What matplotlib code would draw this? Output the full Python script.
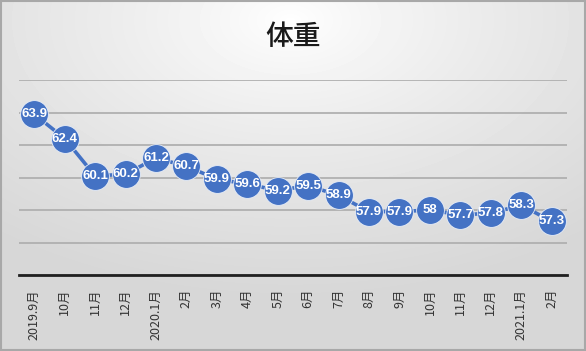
import numpy as np
import matplotlib
matplotlib.use("Agg")
import matplotlib.pyplot as plt

plt.rcParams['font.family'] = ['Noto Sans CJK JP', 'DejaVu Sans']

# データ
months = ["2019.9月", "10月", "11月", "12月", "2020.1月", "2月", "3月", "4月", "5月",
          "6月", "7月", "8月", "9月", "10月", "11月", "12月", "2021.1月", "2月"]
weight = [63.9, 62.4, 60.1, 60.2, 61.2, 60.7, 59.9, 59.6, 59.2,
          59.5, 58.9, 57.9, 57.9, 58, 57.7, 57.8, 58.3, 57.3]
labels = ["63.9", "62.4", "60.1", "60.2", "61.2", "60.7", "59.9", "59.6", "59.2",
          "59.5", "58.9", "57.9", "57.9", "58", "57.7", "57.8", "58.3", "57.3"]

fig = plt.figure(figsize=(5.86, 3.51), dpi=100)

# 背景のグラデーション
bg = fig.add_axes([0, 0, 1, 1], zorder=-10)
yy, xx = np.mgrid[0:351, 0:586]
r = np.sqrt(((xx - 290) / 586.0) ** 2 + ((yy - 20) / 351.0) ** 2)
shade = 1.0 - 0.16 * np.clip(r / 0.8, 0, 1) ** 0.8
bg.imshow(shade, cmap='gray', vmin=0, vmax=1, aspect='auto', extent=[0, 1, 0, 1])
bg.add_patch(plt.Rectangle((0.002, 0.003), 0.996, 0.994, fill=False,
                           edgecolor='#a8a8a8', linewidth=1.5, transform=bg.transAxes))
bg.axis('off')

ax = fig.add_axes([0.0324, 0.2165, 0.935, 0.5555])
ax.patch.set_alpha(0)
x = np.arange(len(months))
ax.plot(x, weight, color='#4472c4', linewidth=2.6, marker='o', markersize=20,
        markerfacecolor='#4472c4', markeredgecolor='#e8eef8', markeredgewidth=0.6, zorder=3)
for xi, yi, t in zip(x, weight, labels):
    ax.text(xi, yi, t, ha='center', va='center', color='white', fontsize=9.5,
            fontweight='bold', family=['Liberation Sans', 'DejaVu Sans'], zorder=4)

ax.set_xlim(-0.5, len(months) - 0.5)
ax.set_ylim(54, 66)
ax.set_yticks(np.arange(54, 67, 2))
ax.set_yticklabels([])
ax.tick_params(axis='y', length=0)
ax.grid(axis='y', color='#b0b0b0', linewidth=1.3)
ax.set_axisbelow(True)
for s in ['top', 'right', 'left']:
    ax.spines[s].set_visible(False)
ax.spines['bottom'].set_color('#202020')
ax.spines['bottom'].set_linewidth(2)
ax.set_xticks(x)
ax.set_xticklabels(months, rotation=90, fontsize=9, color='#333333')
ax.tick_params(axis='x', length=0, pad=10)

fig.text(0.5, 0.896, "体重", ha='center', va='center', fontsize=20,
         fontweight='medium', color='#1a1a1a')

fig.savefig("out.png", dpi=100)
